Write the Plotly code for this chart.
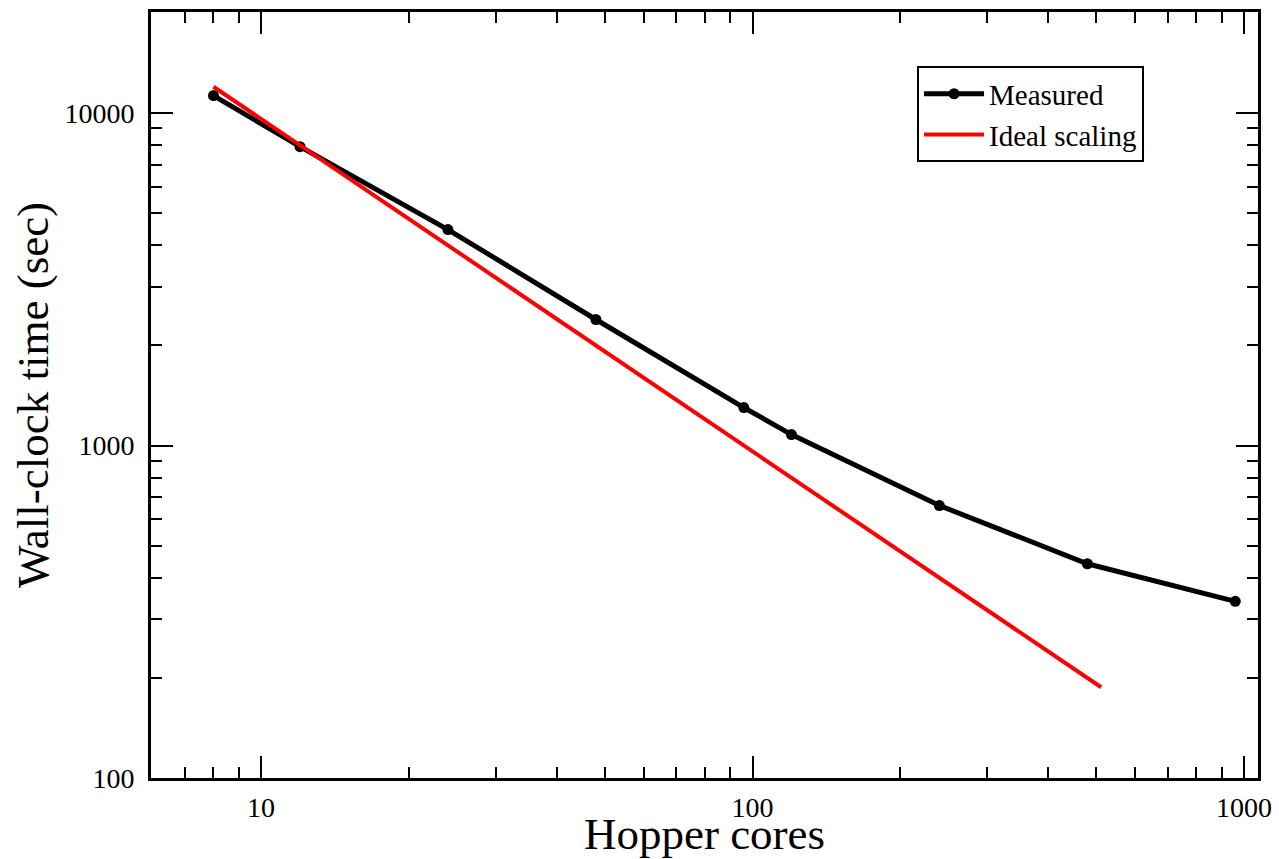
import plotly.graph_objects as go

cores = [8, 12, 24, 48, 96, 120, 240, 480, 960]
measured = [11290, 7925, 4463, 2394, 1301, 1079, 660, 441, 340]
ideal_cores = [8, 512]
ideal_time = [12000, 187.5]

x_tickvals = [10, 100, 1000]
x_ticktext = ["10", "100", "1000"]
y_tickvals = [100, 1000, 10000]
y_ticktext = ["100", "1000", "10000"]
x_minor = [7, 8, 9, 20, 30, 40, 50, 60, 70, 80, 90, 200, 300, 400, 500, 600, 700, 800, 900]
y_minor = [200, 300, 400, 500, 600, 700, 800, 900,
           2000, 3000, 4000, 5000, 6000, 7000, 8000, 9000, 20000]

FONT = "Liberation Serif, Times New Roman, serif"

fig = go.Figure()
fig.add_trace(go.Scatter(
    x=cores, y=measured, mode="lines+markers", name="Measured",
    line=dict(color="black", width=5),
    marker=dict(color="black", size=11),
))
fig.add_trace(go.Scatter(
    x=ideal_cores, y=ideal_time, mode="lines", name="Ideal scaling",
    line=dict(color="#ff0000", width=4),
))

def axis(tv, tt, mv, rng, title, standoff, lstand):
    return dict(
        type="log", range=rng, showgrid=False, zeroline=False, automargin=False,
        showline=True, linecolor="black", linewidth=3, mirror="allticks",
        tickmode="array", tickvals=tv, ticktext=tt,
        ticks="inside", ticklen=22, tickwidth=2, tickcolor="black",
        tickfont=dict(family=FONT, size=28, color="black"),
        ticklabeloverflow="allow", ticklabelstandoff=lstand,
        minor=dict(tickmode="array", tickvals=mv, ticks="inside", ticklen=11,
                   tickwidth=2, tickcolor="black", showgrid=False),
        title=dict(text=title, font=dict(family=FONT, size=45, color="black"), standoff=standoff),
    )

fig.update_layout(
    width=1279, height=859,
    margin=dict(l=151, r=21, t=12, b=81),
    plot_bgcolor="white", paper_bgcolor="white",
    showlegend=True,
    legend=dict(
        x=0.692, y=0.929, xanchor="left", yanchor="top",
        bordercolor="black", borderwidth=2, bgcolor="white",
        font=dict(family=FONT, size=29, color="black"),
        tracegroupgap=0, itemwidth=60,
    ),
    xaxis=axis(x_tickvals, x_ticktext, x_minor, [0.7760, 3.0285], "Hopper cores", 10, 2),
    yaxis=axis(y_tickvals, y_ticktext, y_minor, [2.0, 4.304], "Wall-clock time (sec)", 2, 8),
)

fig.write_html("out.html")
